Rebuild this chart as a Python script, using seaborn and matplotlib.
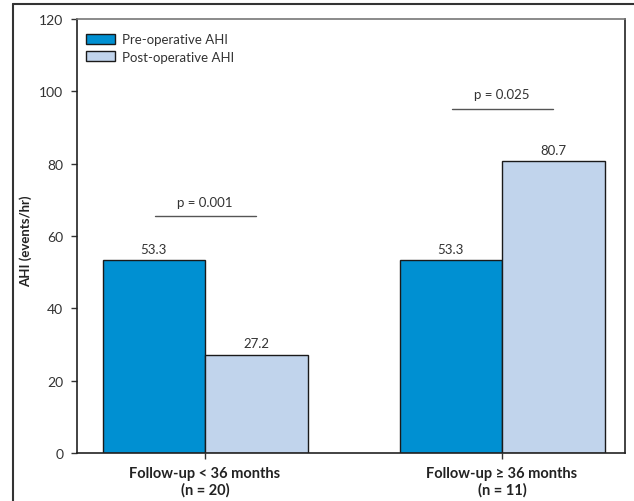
import matplotlib
matplotlib.use("Agg")
import matplotlib.pyplot as plt
import seaborn as sns
import pandas as pd
from matplotlib.lines import Line2D

categories = ["Follow-up < 36 months\n(n = 20)", "Follow-up \u2265 36 months\n(n = 11)"]
series_names = ["Pre-operative AHI", "Post-operative AHI"]
pre_values = [53.3, 53.3]
post_values = [27.2, 80.7]
p_labels = ["p = 0.001", "p = 0.025"]
p_heights = [65.4, 95.2]
yticks = [0, 20, 40, 60, 80, 100, 120]

df = pd.DataFrame({
    "group": categories * 2,
    "series": [series_names[0]] * 2 + [series_names[1]] * 2,
    "value": pre_values + post_values,
})

sns.set_style("white")
plt.rcParams["font.family"] = ["Lato", "DejaVu Sans"]

fig = plt.figure(figsize=(6.34, 5.02), dpi=100)
ax = fig.add_axes([0.1215, 0.0956, 0.8643, 0.8646])

palette = {series_names[0]: "#0090d2", series_names[1]: "#c1d4ec"}
sns.barplot(data=df, x="group", y="value", hue="series", palette=palette,
            width=0.69, edgecolor="#1a1a1a", linewidth=1.0, saturation=1,
            ax=ax, order=categories, hue_order=series_names)

for cont in ax.containers:
    ax.bar_label(cont, fmt="%.1f", padding=4, fontsize=9.5, color="#333333")

for i, (lab, h) in enumerate(zip(p_labels, p_heights)):
    ax.plot([i - 0.17, i + 0.17], [h, h], color="#555555", lw=1.0)
    ax.text(i, h + 2.3, lab, ha="center", va="bottom", fontsize=9.5, color="#333333")

ax.set_xlim(-0.431, 1.414)
ax.set_ylim(0, 120)
ax.set_yticks(yticks)
ax.set_xlabel("")
ax.set_ylabel("AHI (events/hr)", fontsize=9.5, fontweight="bold", color="#222222")
ax.yaxis.set_label_coords(-0.082, 0.49)
ax.tick_params(axis="y", direction="out", length=4, width=1, color="#333333",
               labelsize=10, labelcolor="#333333", left=True, pad=6)
ax.tick_params(axis="x", direction="out", length=4, width=1, color="#333333",
               labelsize=10.5, labelcolor="#222222", bottom=True, pad=5)
for t in ax.get_xticklabels():
    t.set_fontweight("bold")

for s in ["left", "bottom", "right"]:
    ax.spines[s].set_color("#222222")
    ax.spines[s].set_linewidth(1.2)
ax.spines["top"].set_color("#777777")
ax.spines["top"].set_linewidth(1.2)

leg = ax.legend(loc="upper left", bbox_to_anchor=(0.0, 0.988), frameon=False,
                fontsize=9.5, handlelength=2.2, handleheight=0.85, borderaxespad=0.3,
                labelspacing=0.4, handletextpad=0.5, borderpad=0.4)
for t in leg.get_texts():
    t.set_color("#333333")

# outer frame (top and left edges)
fig.add_artist(Line2D([13 / 634, 1.0], [1 - 5 / 502, 1 - 5 / 502], color="#333333", lw=1.5,
                      transform=fig.transFigure))
fig.add_artist(Line2D([13 / 634, 13 / 634], [0, 1 - 5 / 502], color="#333333", lw=1.5,
                      transform=fig.transFigure))

fig.savefig("out.png", dpi=100)
